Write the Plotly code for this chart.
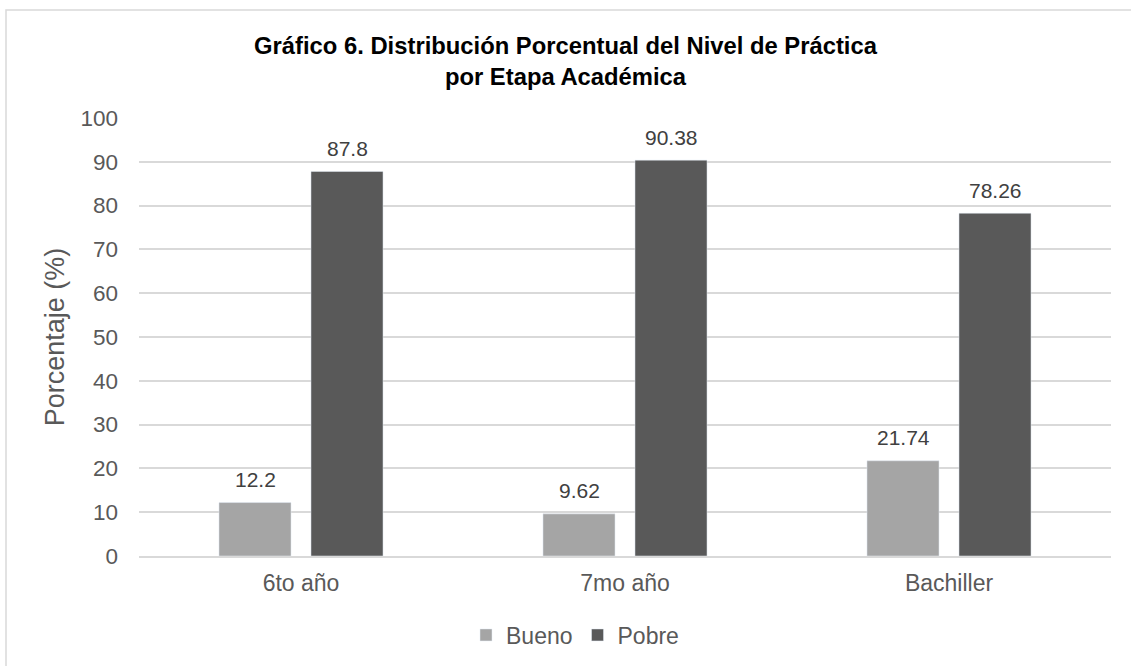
import plotly.graph_objects as go

categories = ["6to año", "7mo año", "Bachiller"]
bueno = [12.2, 9.62, 21.74]
pobre = [87.8, 90.38, 78.26]
bueno_labels = ["12.2", "9.62", "21.74"]
pobre_labels = ["87.8", "90.38", "78.26"]

W, H = 1131, 666
L, R, T, B = 139, 20, 118, 110
pw, ph = W - L - R, H - T - B

fig = go.Figure()
fig.add_trace(go.Bar(name="Bueno", x=categories, y=bueno, marker_color="#A5A5A5"))
fig.add_trace(go.Bar(name="Pobre", x=categories, y=pobre, marker_color="#595959"))

# data labels as annotations (positions from the data arrays, offset to the grouped bars)
for vals, labs, shift in ((bueno, bueno_labels, -46), (pobre, pobre_labels, 46)):
    for c, v, t in zip(categories, vals, labs):
        fig.add_annotation(x=c, y=v, text=t, showarrow=False, xshift=shift, yshift=23,
                           yanchor="middle", xanchor="center",
                           font=dict(size=21, color="#404040"))

def px_x(p):
    return (p - L) / pw

def px_y(p):
    return (H - B - p) / ph

fig.update_layout(
    width=W, height=H,
    margin=dict(l=L, r=R, t=T, b=B, autoexpand=False),
    paper_bgcolor="white", plot_bgcolor="white",
    font=dict(family="Liberation Sans, Arial, sans-serif", color="#595959"),
    title=dict(text="<b>Gráfico 6. Distribución Porcentual del Nivel de Práctica<br>por Etapa Académica</b>",
               x=0.5, xref="container", xanchor="center", y=1 - 54 / H, yanchor="middle",
               font=dict(size=23.8, color="#000000")),
    barmode="group", bargap=0.432, bargroupgap=0.217,
    xaxis=dict(tickfont=dict(size=23, color="#595959"), showline=True, automargin=False,
               linecolor="#D9D9D9", linewidth=1.5, ticks="", showgrid=False,
               ticklabelstandoff=6),
    yaxis=dict(range=[0, 100], dtick=10, tickfont=dict(size=22.5, color="#595959"), automargin=False,
               gridcolor="#D9D9D9", gridwidth=1.5, zeroline=False, ticks="", showline=False,
               ticklabelstandoff=20,
               title=dict(text="Porcentaje (%)", font=dict(size=27, color="#595959"), standoff=8)),
    legend=dict(orientation="h", x=px_x(575), xanchor="center",
                y=px_y(635), yanchor="middle", font=dict(size=23, color="#595959"),
                itemwidth=30, traceorder="normal"),
    showlegend=True,
    shapes=[dict(type="rect", xref="paper", yref="paper",
                 x0=px_x(6), x1=px_x(1140), y0=px_y(680), y1=px_y(10),
                 line=dict(color="#D9D9D9", width=1.5), fillcolor="rgba(0,0,0,0)", layer="below")],
)

fig.write_html("out.html")
